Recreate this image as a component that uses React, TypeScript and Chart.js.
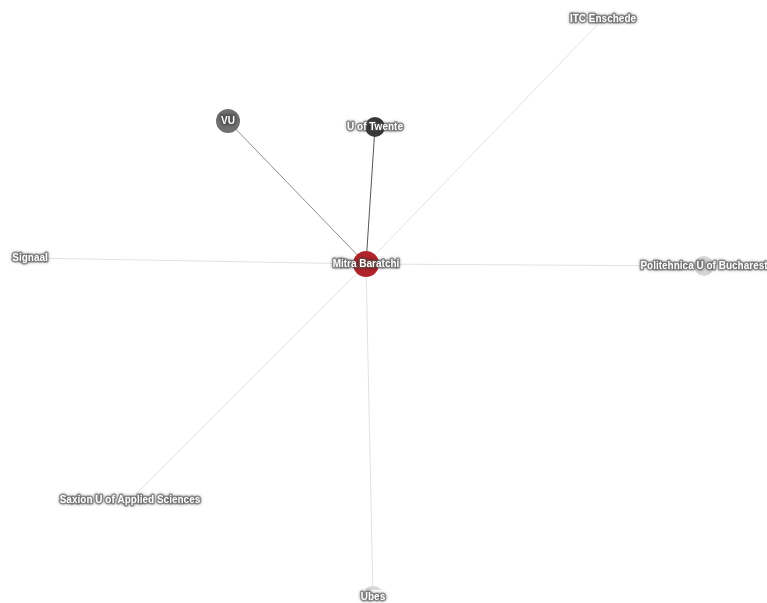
import React, { useEffect, useRef } from "react";
import { Chart, registerables } from "chart.js";

Chart.register(...registerables);

const nodeNames = [
  "Mitra Baratchi",
  "VU",
  "U of Twente",
  "ITC Enschede",
  "Signaal",
  "Politehnica U of Bucharest",
  "Saxion U of Applied Sciences",
  "Ubes",
];
const nodeX = [366, 228, 375, 603, 30, 704, 130, 373];
const nodeY = [264, 121, 127, 19, 258, 266, 500, 597];
const nodeRadius = [13, 12, 10, 9, 9, 10, 9, 11];
const nodeColors = ["#b0252b", "#6f6f6f", "#3b3b3b", "#ffffff", "#ffffff", "#d6d6d6", "#ffffff", "#d9d9d9"];
const edgeTargets = [1, 2, 3, 4, 5, 6, 7];
const edgeColors = ["#8c8c8c", "#555555", "#e2e2e2", "#e2e2e2", "#e2e2e2", "#e2e2e2", "#e2e2e2"];

const labelPlugin = {
  id: "nodeLabels",
  afterDatasetsDraw(chart: any) {
    const { ctx, scales } = chart;
    ctx.save();
    ctx.font = "bold 10px 'Liberation Sans', Arial, sans-serif";
    ctx.textAlign = "center";
    ctx.textBaseline = "middle";
    nodeNames.forEach((name, i) => {
      const x = scales.x.getPixelForValue(nodeX[i]);
      const y = scales.y.getPixelForValue(nodeY[i]);
      ctx.lineJoin = "round";
      ctx.shadowColor = "rgba(0,0,0,0.6)";
      ctx.shadowBlur = 3;
      ctx.strokeStyle = "rgba(90,90,90,0.55)";
      ctx.lineWidth = 3;
      ctx.strokeText(name, x, y);
      ctx.shadowBlur = 0;
      ctx.fillStyle = "#ffffff";
      ctx.fillText(name, x, y);
    });
    ctx.restore();
  },
};

export default function App() {
  const ref = useRef<HTMLCanvasElement>(null);
  useEffect(() => {
    document.body.style.margin = "0";
    const edgeSets = edgeTargets.map((t, k) => ({
      type: "line" as const,
      data: [
        { x: nodeX[0], y: nodeY[0] },
        { x: nodeX[t], y: nodeY[t] },
      ],
      borderColor: edgeColors[k],
      borderWidth: 1,
      pointRadius: 0,
      showLine: true,
      fill: false,
      order: 2,
    }));
    const nodeSet = {
      type: "scatter" as const,
      data: nodeNames.map((_, i) => ({ x: nodeX[i], y: nodeY[i] })),
      backgroundColor: nodeColors,
      borderWidth: 0,
      pointRadius: nodeRadius,
      pointHoverRadius: nodeRadius,
      order: 1,
    };
    const chart = new Chart(ref.current!, {
      type: "scatter",
      data: { datasets: [...edgeSets, nodeSet] as any },
      options: {
        animation: false,
        responsive: false,
        layout: { padding: 0 },
        plugins: { legend: { display: false }, tooltip: { enabled: false } },
        scales: {
          x: { type: "linear", min: 0, max: 767, display: false },
          y: { type: "linear", min: 0, max: 603, reverse: true, display: false },
        },
      },
      plugins: [labelPlugin],
    });
    // make data units coincide with canvas pixels, whatever inner padding the layout reserved
    const a = chart.chartArea;
    (chart.options.scales as any).x.min = a.left;
    (chart.options.scales as any).x.max = a.right;
    (chart.options.scales as any).y.min = a.top;
    (chart.options.scales as any).y.max = a.bottom;
    chart.update();
    return () => chart.destroy();
  }, []);
  return (
    <div style={{ position: "fixed", left: 0, top: 0, width: 767, height: 603, background: "#fff" }}>
      <canvas ref={ref} width={767} height={603} />
    </div>
  );
}
